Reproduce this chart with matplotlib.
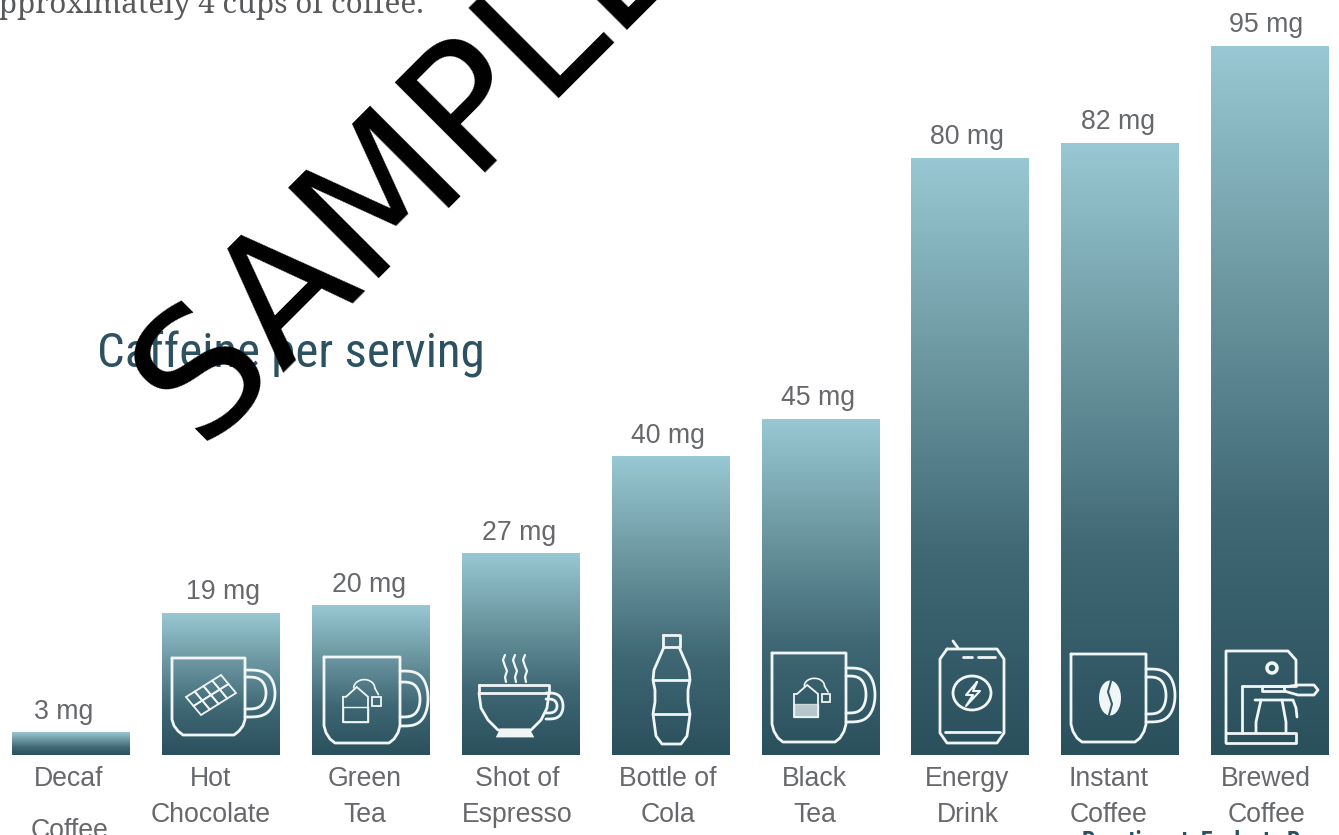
import matplotlib
matplotlib.use("Agg")
import matplotlib.pyplot as plt
import numpy as np
from matplotlib.colors import LinearSegmentedColormap
from matplotlib.patches import Circle, Ellipse, Polygon

# Chart data
categories = ["Decaf\n\nCoffee", "Hot\nChocolate", "Green\nTea", "Shot of\nEspresso", "Bottle of\nCola",
              "Black\nTea", "Energy\nDrink", "Instant\nCoffee", "Brewed\nCoffee"]
caffeine = [3, 19, 20, 27, 40, 45, 80, 82, 95]
value_labels = ["3 mg", "19 mg", "20 mg", "27 mg", "40 mg", "45 mg", "80 mg", "82 mg", "95 mg"]

# Labels do not sit exactly over the bar centres in the reference
value_shift = [-0.05, 0.013, -0.013, -0.013, -0.017, -0.02, -0.02, -0.013, -0.027]
label_shift = [-0.013, -0.067, -0.04, -0.02, -0.02, -0.04, -0.02, -0.08, -0.027]

WHITE = "#f0f5f6"
GREY = "#66686b"
TEAL = "#2c5261"

fig = plt.figure(figsize=(13.39, 8.35), dpi=100)
ax = fig.add_axes([0, 0, 1, 1])
ax.axis("off")

# Gradient of each bar, from light at the top to dark at the bottom
cmap = LinearSegmentedColormap.from_list("bar", ["#98c8d3", "#6d98a2", "#3f6874", "#2a505c"])
gradient = np.linspace(0, 1, 256).reshape(-1, 1)
width = 0.787
for i, v in enumerate(caffeine):
    ax.imshow(gradient, cmap=cmap, aspect="auto", zorder=2,
              extent=(i - width / 2, i + width / 2, 0, v))
    ax.text(i + value_shift[i], v + 1.05, value_labels[i], ha="center", va="bottom", fontsize=19.2, color=GREY,
            family="Liberation Sans")
    three_lines = categories[i].count("\n") == 2
    ax.text(i + label_shift[i], -1.45, categories[i], ha="center", va="top", fontsize=19.2, color=GREY,
            family="Liberation Sans", linespacing=1.0 if three_lines else 1.5)
ax.set_xlim(-0.4737, 8.459)
ax.set_ylim(-10.72, 101.2)

# Overlay in pixel coordinates for the icons and loose texts
pix = fig.add_axes([0, 0, 1, 1], facecolor="none")
pix.set_xlim(0, 1339)
pix.set_ylim(835, 0)
pix.axis("off")


def stroke(xs, ys, lw=2.0, color=WHITE):
    pix.plot(xs, ys, color=color, lw=lw, solid_capstyle="round", solid_joinstyle="round", zorder=5)


def outline(pts, lw=1.3, fill=False, alpha=1):
    pix.add_patch(Polygon(pts, closed=True, fill=fill, fc=WHITE, ec=WHITE, lw=lw, alpha=alpha, zorder=5))


def handle(x1, y0, y1, w):
    # squared off half ellipse from the side of a mug
    t = np.linspace(-np.pi / 2, np.pi / 2, 40)
    stroke(x1 + w * np.cos(t) ** 0.55, (y0 + y1) / 2 + (y1 - y0) / 2 * np.sin(t))


def mug(x0, x1, y0, y1, outer, inner):
    # body first, then the two lines of the handle
    h = y1 - y0
    stroke([x0, x0, x0 + 2, x0 + 6, x0 + 11, x1 - 11, x1 - 6, x1 - 2, x1, x1, x0],
           [y0, y1 - h * 0.2, y1 - h * 0.12, y1 - 4, y1, y1, y1 - 4, y1 - h * 0.12, y1 - h * 0.2, y0, y0])
    handle(x1, *outer)
    handle(x1, *inner)


def teabag(x0, y0, w, h, filled=False):
    outline([(x0 + 3, y0 + h * 0.28), (x0 + w * 0.55, y0), (x0 + w, y0 + h * 0.28),
             (x0 + w, y0 + h), (x0, y0 + h), (x0, y0 + h * 0.28)], lw=1.3)
    outline([(x0, y0 + h * 0.58), (x0 + w, y0 + h * 0.58), (x0 + w, y0 + h), (x0, y0 + h)],
            lw=1, fill=filled, alpha=0.7 if filled else 1)
    t = np.linspace(np.pi, 2 * np.pi, 30)
    stroke(x0 + w * 0.85 + w * 0.42 * np.cos(t), y0 + 1 + h * 0.24 * np.sin(t), 1.2)
    stroke([x0 + w * 1.27, x0 + w * 1.42], [y0 + 1, y0 + h * 0.22], 1.2)
    outline([(x0 + w * 1.15, y0 + h * 0.28), (x0 + w * 1.52, y0 + h * 0.28),
             (x0 + w * 1.52, y0 + h * 0.53), (x0 + w * 1.15, y0 + h * 0.53)], lw=1.3)


# Hot chocolate
mug(172, 245, 658, 735, (670, 717, 30), (677, 709, 21))
along = np.array([8.75, -5.5])
across = np.array([7.5, 9.0])
for r in range(2):
    for c in range(4):
        start = np.array([186.0, 697.0]) + c * along + r * across
        outline([start, start + along, start + along + across, start + across], lw=1.3)

# Green tea
mug(324, 400, 657, 743, (671, 726, 28), (682, 717, 20))
teabag(343, 687, 25, 35)

# Espresso cup
stroke([479, 479, 549, 549, 479], [685, 693, 693, 685, 685])
stroke([479, 481, 488, 498, 531, 541, 547, 549], [693, 708, 720, 730, 730, 720, 708, 693])
outline([(501, 730), (529, 730), (532, 736), (498, 736)], lw=2, fill=True)
handle(546, 693, 719, 17)
handle(546, 699, 713, 11)
for x0 in [503, 513, 523]:
    stroke(x0 + np.array([2, 0, 2, 4, 2, 3]), [655, 660, 666, 671, 677, 682], 1.6)

# Cola bottle
stroke([663, 663, 680, 680, 663], [635, 647, 647, 635, 635])
stroke([664, 654, 653, 655, 655, 653, 656, 662, 681, 687, 690, 688, 688, 690, 689, 679],
       [647, 670, 680, 690, 702, 714, 736, 744, 744, 736, 714, 702, 690, 680, 670, 647])
stroke([654, 689], [680, 680])
stroke([654, 689], [714, 714])

# Black tea
mug(772, 846, 653, 742, (668, 722, 29), (676, 713, 20))
teabag(794, 685, 24, 32, filled=True)

# Energy can
stroke([947, 940, 940, 947, 997, 1004, 1004, 997, 947], [649, 659, 733, 743, 743, 733, 659, 649, 649])
stroke([945, 1000], [732, 732])
stroke([953, 958], [641, 648])
stroke([963, 972], [657, 657])
stroke([978, 995], [657, 657])
pix.add_patch(Ellipse((972, 693), 38, 34, fill=False, ec=WHITE, lw=2, zorder=5))
stroke([977, 966, 973, 966, 980, 973, 977], [682, 695, 695, 706, 691, 691, 682], 1.5)

# Instant coffee
mug(1071, 1146, 654, 742, (669, 722, 29), (677, 714, 20))
pix.add_patch(Ellipse((1110, 698), 22, 35, fc=WHITE, ec="none", zorder=5))
stroke([1111, 1108, 1112, 1109], [681, 692, 704, 715], 1.5, color="#365a67")

# Coffee machine
stroke([1226, 1226, 1288, 1296, 1296], [743, 651, 651, 660, 686])
stroke([1226, 1296, 1296, 1226], [743, 743, 733, 733])
stroke([1242, 1242], [733, 686])
stroke([1242, 1296], [686, 686])
pix.add_patch(Circle((1272, 668), 5, fill=False, ec=WHITE, lw=2.5, zorder=5))
stroke([1262, 1284, 1284, 1262, 1262], [686, 686, 691, 691, 686])
stroke([1284, 1298, 1314, 1318, 1314, 1298, 1284], [687, 685, 685, 690, 695, 695, 691])
stroke([1255, 1293, 1296, 1297], [700, 700, 708, 717])
stroke([1261, 1256, 1256], [700, 722, 732])
stroke([1282, 1286, 1286], [700, 722, 732])

# Loose texts around the chart
pix.text(-18, 13, "approximately 4 cups of coffee.", fontsize=21.4, color="#58595b",
         family=["Noto Serif", "DejaVu Serif"], ha="left", va="baseline")
pix.text(97, 368, "Caffeine per serving", fontsize=35.3, color=TEAL, ha="left", va="baseline",
         family="Roboto Condensed", zorder=3)
pix.text(1082, 848, "Reactions t. Evaluate R", fontsize=17, color=TEAL, fontweight="bold", ha="left", va="baseline",
         family="Roboto Condensed")

# Watermark
pix.text(200, 446, "SAMPLE", fontsize=125, color="black", rotation=45, rotation_mode="anchor",
         ha="left", va="baseline", family="DejaVu Sans", zorder=10)

plt.savefig("out.png", dpi=100)
